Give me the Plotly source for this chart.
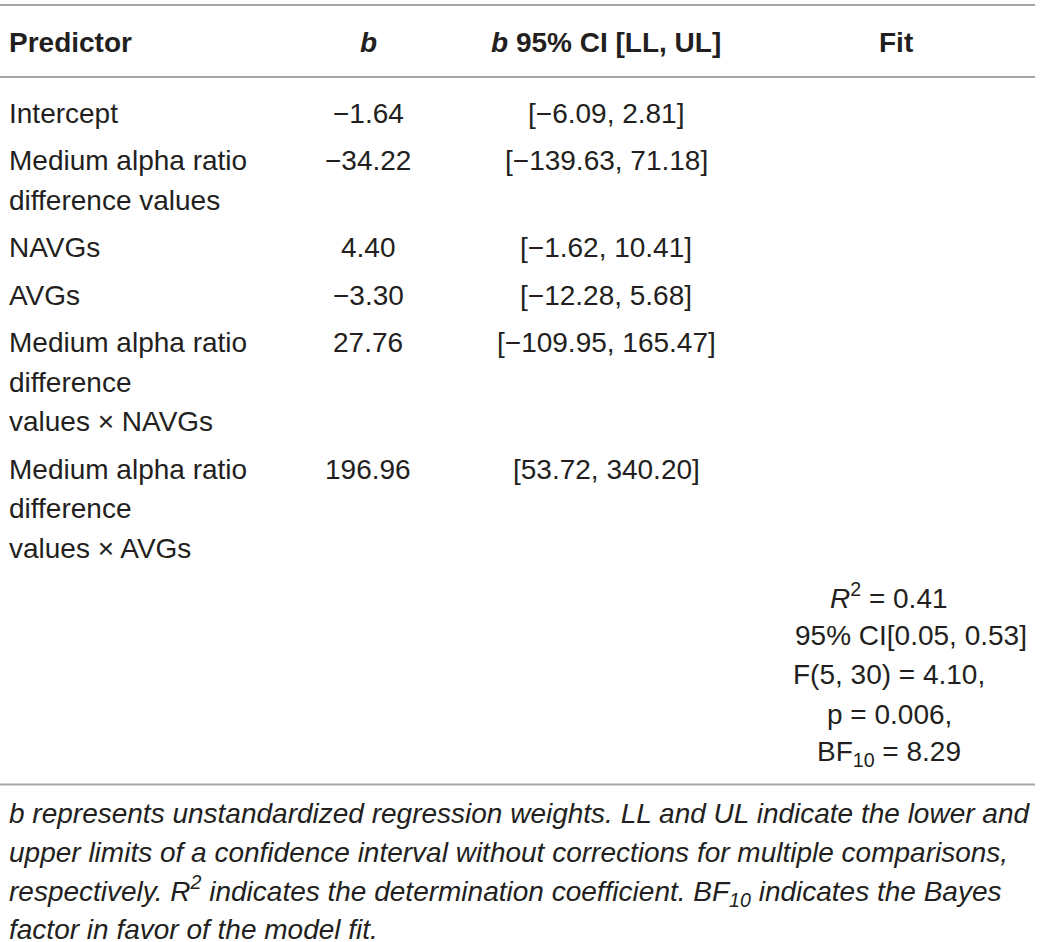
import plotly.graph_objects as go

# Regression table: predictors, weights and confidence intervals
predictors = [
    ["Intercept"],
    ["Medium alpha ratio", "difference values"],
    ["NAVGs"],
    ["AVGs"],
    ["Medium alpha ratio", "difference", "values × NAVGs"],
    ["Medium alpha ratio", "difference", "values × AVGs"],
]
b_values = [-1.64, -34.22, 4.40, -3.30, 27.76, 196.96]
ci_low = [-6.09, -139.63, -1.62, -12.28, -109.95, 53.72]
ci_high = [2.81, 71.18, 10.41, 5.68, 165.47, 340.20]

# Model fit statistics
r2 = 0.41
r2_ci = [0.05, 0.53]
f_df = [5, 30]
f_value = 4.10
p_value = 0.006
bf10 = 8.29

headers = ["Predictor", "<i>b</i>", "<i>b</i> 95% CI [LL, UL]", "Fit"]

footnote = [
    "b represents unstandardized regression weights. LL and UL indicate the lower and",
    "upper limits of a confidence interval without corrections for multiple comparisons,",
    "respectively. R<sup>2</sup> indicates the determination coefficient. BF<sub>10</sub> indicates the Bayes",
    "factor in favor of the model fit.",
]


def fmt(v):
    # typographic minus sign like the journal table
    s = "{:.2f}".format(abs(v))
    return ("\u2212" + s) if v < 0 else s


W, H = 1041, 942
FONT = "Liberation Sans, Arial, sans-serif"
TXT = "#231f20"
LINE = "#a7a7a7"
SIZE = 28

# column anchors
x_pred = 7
x_b = 368
x_ci = 606
x_fit = 889

first_y = 113
line_step = 39.5
row_step = 47.5

fig = go.Figure()
annotations = []


def add_text(x, y, text, anchor="center", size=SIZE, bold=False, italic=False, xshift=0):
    if bold:
        text = "<b>" + text + "</b>"
    if italic:
        text = "<i>" + text + "</i>"
    annotations.append(dict(
        x=x, y=y, xref="x", yref="y", text=text, showarrow=False,
        xanchor=anchor, yanchor="middle", xshift=xshift,
        font=dict(family=FONT, size=size, color=TXT),
    ))


# header
header_y = 42
add_text(x_pred, header_y, headers[0], anchor="left", bold=True)
add_text(x_b, header_y, headers[1], bold=True)
add_text(x_ci, header_y, headers[2], bold=True)
add_text(896, header_y, headers[3], bold=True)

# body rows
y = first_y
for lines, b, lo, hi in zip(predictors, b_values, ci_low, ci_high):
    for k, ln in enumerate(lines):
        add_text(x_pred, y + k * line_step, ln, anchor="left")
    add_text(x_b, y, fmt(b))
    add_text(x_ci, y, "[" + fmt(lo) + ", " + fmt(hi) + "]")
    y += (len(lines) - 1) * line_step + row_step

# fit column stacked below the last row
fit_lines = [
    "<i>R</i><sup>2</sup> = {:.2f}".format(r2),
    "95% CI[{:.2f}, {:.2f}]".format(r2_ci[0], r2_ci[1]),
    "F({}, {}) = {:.2f},".format(f_df[0], f_df[1], f_value),
    "p = {:.3f},".format(p_value),
    "BF<sub>10</sub> = {:.2f}".format(bf10),
]
fit_shift = [0, 22, 0, 0, 0]
for k, ln in enumerate(fit_lines):
    add_text(x_fit, y + k * line_step, ln, xshift=fit_shift[k])

bottom_y = y + (len(fit_lines) - 1) * line_step + 31

# footnote
for k, ln in enumerate(footnote):
    add_text(x_pred, bottom_y + 29 + k * 38.5, ln, anchor="left", size=28, italic=True)

shapes = []
for ly in [5, 77, bottom_y]:
    shapes.append(dict(type="line", xref="x", yref="y", x0=0, x1=1035, y0=ly, y1=ly,
                       line=dict(color=LINE, width=2)))

fig.update_layout(
    width=W, height=H,
    margin=dict(l=0, r=0, t=0, b=0),
    paper_bgcolor="white", plot_bgcolor="white",
    xaxis=dict(range=[0, W], visible=False, fixedrange=True),
    yaxis=dict(range=[H, 0], visible=False, fixedrange=True),
    annotations=annotations,
    shapes=shapes,
    showlegend=False,
)

# drop the default page margin so the figure sits at the window's corner
fig.write_html("out.html", config={"staticPlot": True},
               post_script="document.body.style.margin='0px';document.body.style.overflow='hidden';")
